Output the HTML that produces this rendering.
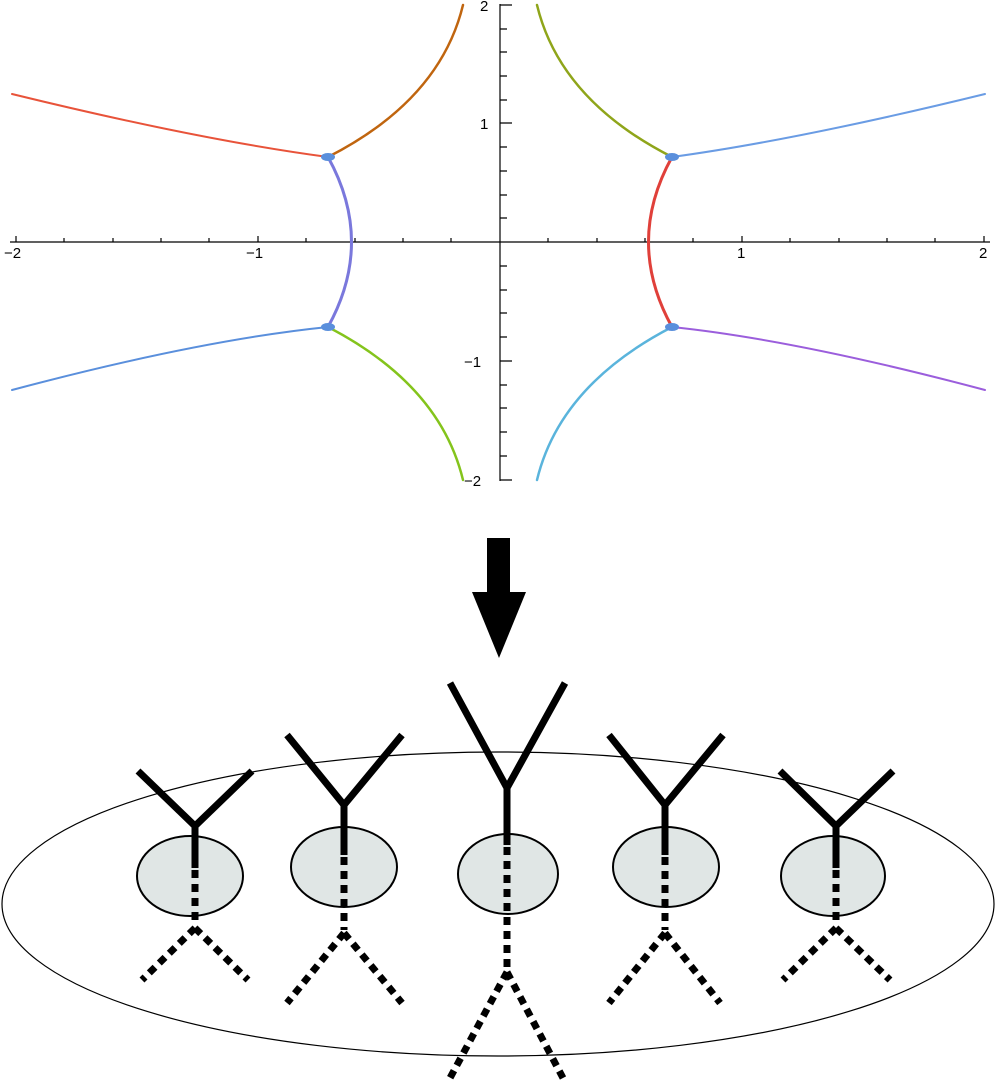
<!DOCTYPE html>
<html><head><style>body{margin:0;background:#fff}svg{display:block}</style></head><body>
<svg width="997" height="1080" viewBox="0 0 997 1080" xmlns="http://www.w3.org/2000/svg">
<g stroke="#000" stroke-width="1.2" fill="none">
<line x1="10" y1="242" x2="990" y2="242"/>
<line x1="500" y1="4" x2="500" y2="481"/>
<path d="M16 236V242M64 238V242M113 238V242M161 238V242M209 238V242M258 236V242M306 238V242M355 238V242M403 238V242M451 238V242M548 238V242M597 238V242M645 238V242M693 238V242M742 236V242M790 238V242M839 238V242M887 238V242M935 238V242M984 236V242"/>
<path d="M500 5H512M500 29H507M500 52H507M500 76H507M500 100H507M500 123H512M500 147H507M500 171H507M500 195H507M500 218H507M500 266H507M500 290H507M500 313H507M500 337H507M500 361H512M500 385H507M500 408H507M500 432H507M500 456H507M500 480H512"/>
</g>
<g font-family="Liberation Sans, sans-serif" font-size="15" fill="#000">
<text x="4" y="258">−2</text><text x="246" y="258">−1</text><text x="737" y="258">1</text><text x="979" y="258">2</text>
<text x="480" y="11">2</text><text x="480" y="129">1</text><text x="464" y="367">−1</text><text x="464" y="486">−2</text>
</g>
<g fill="none" stroke-linecap="round">
<path d="M12 94 Q200 140 328 157" stroke="#e8533a" stroke-width="2"/>
<path d="M328 157 Q440 100 463 5" stroke="#c0650f" stroke-width="2.5"/>
<path d="M328 157 Q375 242 328 327" stroke="#7a78dc" stroke-width="3"/>
<path d="M12 390 Q200 340 328 327" stroke="#5a8fdc" stroke-width="2"/>
<path d="M328 327 Q440 385 463 480" stroke="#84c41c" stroke-width="2.5"/>
<path d="M985 94 Q797 140 672 157" stroke="#6a9ce4" stroke-width="2"/>
<path d="M672 157 Q560 100 537 5" stroke="#8fa51a" stroke-width="2.5"/>
<path d="M672 157 Q625 242 672 327" stroke="#e0403a" stroke-width="3"/>
<path d="M985 390 Q797 340 672 327" stroke="#9b5edc" stroke-width="2"/>
<path d="M672 327 Q560 385 537 480" stroke="#5ab4dc" stroke-width="2.5"/>
</g>
<g fill="#5a8fdc"><ellipse cx="328" cy="157" rx="7" ry="4"/><ellipse cx="328" cy="327" rx="7" ry="4"/><ellipse cx="672" cy="157" rx="7" ry="4"/><ellipse cx="672" cy="327" rx="7" ry="4"/></g>
<rect x="487" y="538" width="23" height="55" fill="#000"/>
<polygon points="472,592 526,592 499,658" fill="#000"/>
<ellipse cx="498" cy="904" rx="496" ry="152" fill="none" stroke="#000" stroke-width="1.2"/>
<g fill="#e0e6e5" stroke="#000" stroke-width="2">
<ellipse cx="190" cy="876" rx="53" ry="40"/><ellipse cx="344" cy="867" rx="53" ry="40"/><ellipse cx="508" cy="874" rx="50" ry="40"/><ellipse cx="666" cy="867" rx="53" ry="40"/><ellipse cx="833" cy="876" rx="52" ry="40"/>
</g>
<g stroke="#000" stroke-width="7" fill="none">
<path d="M138 771L195 826L252 771M195 826V868"/>
<path d="M287 735L344 805L402 735M344 805V855"/>
<path d="M450 683L507 788L565 683M507 788V845"/>
<path d="M609 735L665 805L723 735M665 805V855"/>
<path d="M780 771L836 826L893 771M836 826V868"/>
</g>
<g stroke="#000" stroke-width="7" fill="none" stroke-dasharray="8 6">
<path d="M195 870V925M195 928L142 980M195 928L248 980"/>
<path d="M344 857V930M344 933L287 1003M344 933L402 1003"/>
<path d="M507 847V968M507 972L450 1078M507 972L563 1078"/>
<path d="M665 857V930M665 933L609 1003M665 933L720 1003"/>
<path d="M836 870V925M836 928L783 980M836 928L890 980"/>
</g>
</svg>
</body></html>
